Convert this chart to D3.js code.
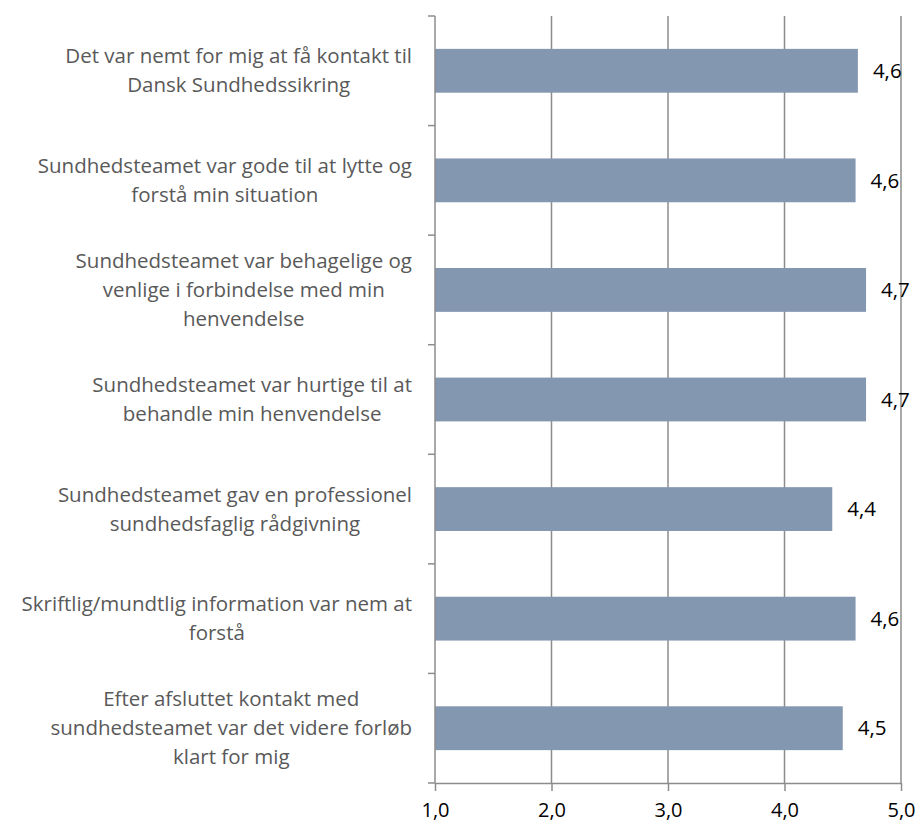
<!DOCTYPE html>
<html>
<head>
<meta charset="utf-8">
<script src="https://cdn.jsdelivr.net/npm/d3@7"></script>
<style>
  body { margin: 0; background: #fff; }
  text { font-family: "Open Sans", sans-serif; }
</style>
</head>
<body>
<div id="chart"></div>
<script>
// categories (top to bottom), line breaks as in the picture
var categories = [
  "Det var nemt for mig at få kontakt til\nDansk Sundhedssikring",
  "Sundhedsteamet var gode til at lytte og\nforstå min situation",
  "Sundhedsteamet var behagelige og\nvenlige i forbindelse med min\nhenvendelse",
  "Sundhedsteamet var hurtige til at\nbehandle min henvendelse",
  "Sundhedsteamet gav en professionel\nsundhedsfaglig rådgivning",
  "Skriftlig/mundtlig information var nem at\nforstå",
  "Efter afsluttet kontakt med\nsundhedsteamet var det videre forløb\nklart for mig"
];
var values = [4.63, 4.61, 4.70, 4.70, 4.41, 4.61, 4.50];
var xTicks = [1, 2, 3, 4, 5];

var width = 920, height = 827;
var margin = {top: 16, right: 19, bottom: 44, left: 435};
var w = width - margin.left - margin.right;
var h = height - margin.top - margin.bottom;

var svg = d3.select("#chart").append("svg")
    .attr("width", width)
    .attr("height", height);

var g = svg.append("g")
    .attr("transform", "translate(" + margin.left + "," + margin.top + ")");

var x = d3.scaleLinear().domain([1, 5]).range([0, w]);
var y = d3.scaleBand().domain(categories).range([0, h])
    .paddingInner(0.6).paddingOuter(0.3);

var fmt = function(v) { return d3.format(".1f")(v).replace(".", ","); };

// gridlines
g.selectAll(".grid")
  .data(xTicks.slice(1))
  .enter().append("line")
    .attr("x1", function(d) { return x(d); })
    .attr("x2", function(d) { return x(d); })
    .attr("y1", 0)
    .attr("y2", h)
    .style("stroke", "#8c8c8c")
    .style("stroke-width", 1.5);

// bars
g.selectAll(".bar")
  .data(values)
  .enter().append("rect")
    .attr("x", x(1))
    .attr("y", function(d, i) { return y(categories[i]); })
    .attr("width", function(d) { return x(d) - x(1); })
    .attr("height", y.bandwidth())
    .style("fill", "#8497b0");

// value labels
g.selectAll(".val")
  .data(values)
  .enter().append("text")
    .attr("x", function(d) { return x(d) + 15; })
    .attr("y", function(d, i) { return y(categories[i]) + y.bandwidth() / 2; })
    .attr("dy", "0.35em")
    .text(function(d) { return fmt(d); })
    .style("font-size", "20.5px")
    .style("fill", "#000");

// x axis
var xAxis = g.append("g")
    .attr("transform", "translate(0," + h + ")")
    .call(d3.axisBottom(x).tickValues(xTicks).tickFormat(fmt).tickSize(8).tickSizeOuter(0));
xAxis.select(".domain").style("stroke", "#8c8c8c").style("stroke-width", 1.5);
xAxis.selectAll(".tick line").style("stroke", "#8c8c8c").style("stroke-width", 1.5);
xAxis.selectAll(".tick text")
    .attr("y", 17)
    .attr("dy", "0.85em")
    .style("font-size", "20px")
    .style("fill", "#000")
    .style("font-family", "'Open Sans', sans-serif");

// y axis line with ticks between categories
g.append("line")
    .attr("x1", 0).attr("x2", 0).attr("y1", 0).attr("y2", h)
    .style("stroke", "#8c8c8c").style("stroke-width", 1.5);
var bounds = d3.range(categories.length + 1).map(function(i) { return i * y.step(); });
g.selectAll(".ytick")
  .data(bounds)
  .enter().append("line")
    .attr("x1", -7).attr("x2", 0)
    .attr("y1", function(d) { return d; })
    .attr("y2", function(d) { return d; })
    .style("stroke", "#8c8c8c").style("stroke-width", 1.5);

// category labels: each block centred, block right edge at 412px
var lineH = 29;
var rightEdge = 412 - margin.left;
var labels = g.selectAll(".cat")
  .data(categories)
  .enter().append("text")
    .attr("text-anchor", "middle")
    .style("font-size", "20.5px")
    .style("fill", "#595959");
labels.each(function(d) {
  var lines = d.split("\n");
  var t = d3.select(this);
  lines.forEach(function(l, i) {
    t.append("tspan")
      .attr("x", 0)
      .attr("y", (i - (lines.length - 1) / 2) * lineH)
      .attr("dy", "0.35em")
      .text(l);
  });
  var maxW = d3.max(t.selectAll("tspan").nodes(), function(n) { return n.getComputedTextLength(); });
  t.attr("transform", "translate(" + (rightEdge - maxW / 2) + "," + (y(d) + y.bandwidth() / 2) + ")");
});
</script>
</body>
</html>
